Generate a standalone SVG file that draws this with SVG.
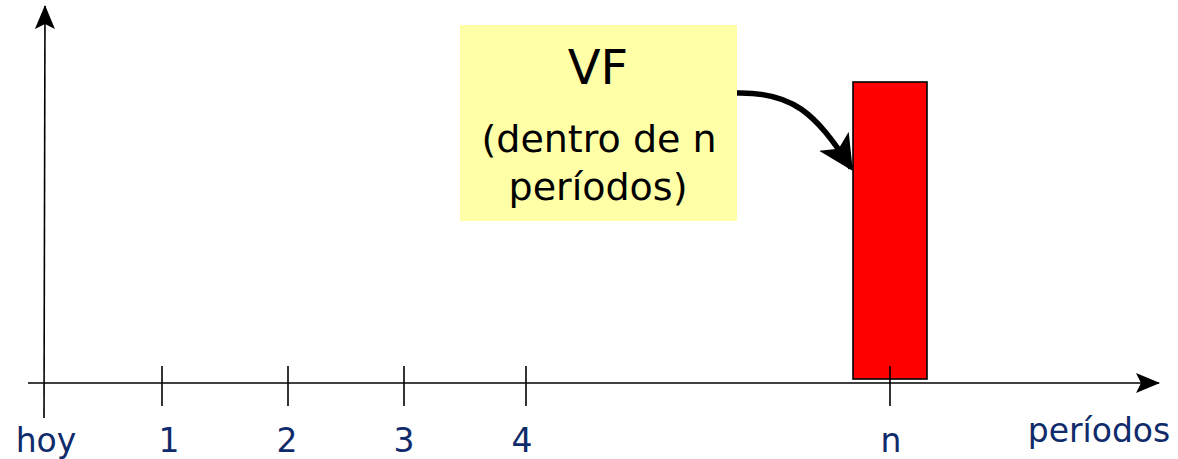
<svg xmlns="http://www.w3.org/2000/svg" width="1178" height="459" viewBox="0 0 1178 459">
<style>
.axis{stroke:#000;stroke-width:1.6;fill:none}
.tick{stroke:#000;stroke-width:1.6}
.lbl{font-family:"DejaVu Sans",Verdana,sans-serif;font-size:33px;fill:#0f2b6b;text-anchor:middle}
.box{font-family:"DejaVu Sans",Verdana,sans-serif;fill:#000;text-anchor:middle}
</style>
<defs>
<marker id="ah" viewBox="0 0 24 20" refX="23" refY="10" markerWidth="24" markerHeight="20" markerUnits="userSpaceOnUse" orient="auto">
<path d="M0,0 L24,10 L0,20 L5,10 Z" fill="#000"/>
</marker>
<marker id="ah2" viewBox="0 0 10 10" refX="9" refY="5" markerWidth="6.4" markerHeight="6.4" markerUnits="strokeWidth" orient="auto">
<path d="M0,0 L10,5 L0,10 L2.5,5 Z" fill="#000"/>
</marker>
</defs>
<g id="connectors">
<line class="axis" x1="44" y1="418" x2="45" y2="6" marker-end="url(#ah)"/>
<line class="axis" x1="28" y1="383" x2="1159" y2="383" marker-end="url(#ah)"/>
<path d="M737,93 C792,92 815,112 851,168" stroke="#000" stroke-width="5.5" fill="none" marker-end="url(#ah2)"/>
</g>
<g id="bar">
<rect x="853" y="82" width="74" height="297" fill="#ff0000" stroke="#000" stroke-width="1.6"/>
</g>
<g id="ticks">
<line class="tick" x1="162" y1="366" x2="162" y2="406"/>
<line class="tick" x1="288" y1="366" x2="288" y2="406"/>
<line class="tick" x1="404" y1="366" x2="404" y2="406"/>
<line class="tick" x1="526" y1="366" x2="526" y2="406"/>
<line class="tick" x1="890" y1="366" x2="890" y2="406"/>
</g>
<g id="labels">
<text class="lbl" x="46" y="452">hoy</text>
<text class="lbl" x="169" y="452">1</text>
<text class="lbl" x="287" y="452">2</text>
<text class="lbl" x="404" y="452">3</text>
<text class="lbl" x="522" y="452">4</text>
<text class="lbl" x="891" y="452">n</text>
<text class="lbl" x="1099" y="442">períodos</text>
</g>
<g id="vf">
<rect x="460" y="25" width="277" height="196" fill="#ffffa8"/>
<text class="box" x="598" y="84" font-size="48">VF</text>
<text class="box" x="599" y="152" font-size="38">(dentro de n</text>
<text class="box" x="598" y="200" font-size="38">períodos)</text>
</g>
</svg>
